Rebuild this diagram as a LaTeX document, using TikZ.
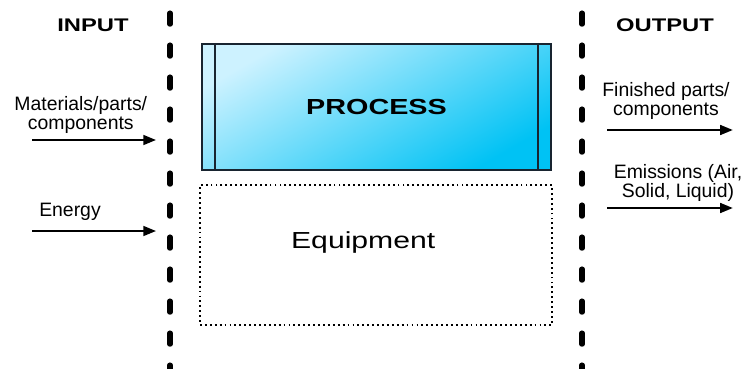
\documentclass[tikz,border=0pt]{standalone}
\usepackage{fontspec}
\setmainfont{Liberation Sans}
\usetikzlibrary{arrows.meta,positioning,calc}
\definecolor{procCyan}{RGB}{0,194,244}
\definecolor{procLight}{RGB}{205,242,255}
\definecolor{procEdge}{RGB}{24,36,48}

\begin{document}
\begin{tikzpicture}[
  head/.style={font=\bfseries\fontsize{13}{15}\selectfont, inner sep=0pt},
  side/.style={font=\fontsize{13.8}{13.2}\selectfont, align=center, inner sep=0pt},
  procbox/.style={draw=procEdge, line width=1.5pt, top color=procLight, bottom color=procCyan, shading angle=30, minimum width=8.725cm, minimum height=3.15cm, inner sep=0pt},
  equipbox/.style={draw=black, line width=1.3pt, dash pattern=on 1.3pt off 2.2pt, minimum width=8.8cm, minimum height=3.5cm, inner sep=0pt},
  divider/.style={line width=3.6pt, line cap=round, dash pattern=on 0.28cm off 0.52cm},
  arr/.style={-{Triangle[length=9pt,width=7pt]}, line width=1.4pt}
]
  \useasboundingbox (0,0) rectangle (18.65,9.2);

  % boundaries
  \coordinate (ltop) at (4.25,8.875);
  \coordinate (lbot) at (4.25,-0.2);
  \coordinate (rtop) at (14.55,8.875);
  \coordinate (rbot) at (14.55,-0.2);
  \draw[divider] (ltop) -- (lbot);
  \draw[divider] (rtop) -- (rbot);

  % headings
  \node[head] (inp)  at (2.325,8.57)  {\scalebox{1.3}[1]{INPUT}};
  \node[head] (outp) at (16.625,8.57) {\scalebox{1.3}[1]{OUTPUT}};

  % process and equipment (middle)
  \node[procbox] (proc) at (9.4125,6.525) {\scalebox{1.32}[1]{\bfseries\fontsize{15.5}{18}\selectfont PROCESS}};
  \draw[procEdge, line width=1.5pt] ([xshift=0.35cm]proc.north west) -- ([xshift=0.35cm]proc.south west);
  \draw[procEdge, line width=1.5pt] ([xshift=-0.35cm]proc.north east) -- ([xshift=-0.35cm]proc.south east);
  \node[equipbox] (equip) at (9.4,2.825) {};
  \node[font=\fontsize{16.5}{20}\selectfont, inner sep=0pt] (eqlab) at (9.08,3.125) {\scalebox{1.3}[1]{Equipment}};

  % inputs (left column)
  \node[side] (matlab) at (2.02,6.32) {Materials/parts/\\components};
  \node[side] (enlab)  at (1.75,3.9)  {Energy};
  \coordinate (matA) at (0.8,5.7);
  \coordinate (matB) at (3.9,5.7);
  \coordinate (enA)  at (0.8,3.425);
  \coordinate (enB)  at (3.9,3.425);
  \draw[arr] (matA) -- (matB);
  \draw[arr] (enA) -- (enB);

  % outputs (right column)
  \node[side] (finlab) at (16.65,6.67) {Finished parts/\\components};
  \node[side] (emilab) at (16.95,4.62)  {Emissions (Air,\\Solid, Liquid)};
  \coordinate (finA) at (15.175,5.95);
  \coordinate (finB) at (18.32,5.95);
  \coordinate (emiA) at (15.175,4.0);
  \coordinate (emiB) at (18.32,4.0);
  \draw[arr] (finA) -- (finB);
  \draw[arr] (emiA) -- (emiB);
\end{tikzpicture}
\end{document}
